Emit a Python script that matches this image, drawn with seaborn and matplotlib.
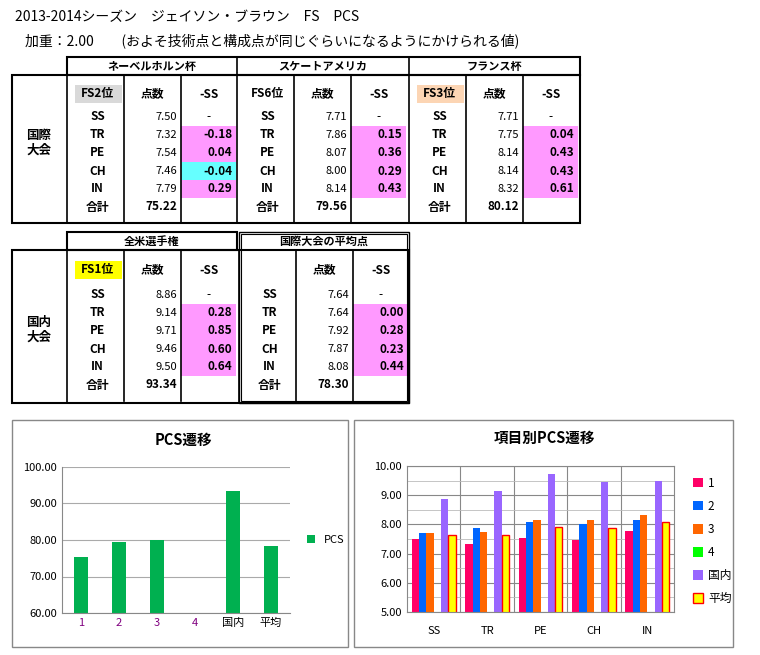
import numpy as np
import pandas as pd
import matplotlib
matplotlib.use("Agg")
import matplotlib.pyplot as plt
from matplotlib.patches import Rectangle
import seaborn as sns

plt.rcParams["font.family"] = ["Noto Sans CJK JP", "DejaVu Sans"]

items = ["SS", "TR", "PE", "CH", "IN"]
events = ["ネーベルホルン杯", "スケートアメリカ", "フランス杯"]
ranks = ["FS2位", "FS6位", "FS3位"]
scores_1 = [7.50, 7.32, 7.54, 7.46, 7.79]
scores_2 = [7.71, 7.86, 8.07, 8.00, 8.14]
scores_3 = [7.71, 7.75, 8.14, 8.14, 8.32]
totals_intl = [75.22, 79.56, 80.12]
scores_nat = [8.86, 9.14, 9.71, 9.46, 9.50]
total_nat = 93.34
scores_avg = [7.64, 7.64, 7.92, 7.87, 8.08]
total_avg = 78.30
pcs_labels = ["1", "2", "3", "4", "国内", "平均"]
pcs_totals = [75.22, 79.56, 80.12, np.nan, 93.34, 78.30]
series_labels = ["1", "2", "3", "4", "国内", "平均"]
series_values = [scores_1, scores_2, scores_3, [np.nan]*5, scores_nat, scores_avg]

W, H = 760, 655
fig = plt.figure(figsize=(7.6, 6.55), dpi=100)
T = fig.transFigure
def X(x): return x / W
def Y(y): return 1 - y / H
def text(x, y, s, ha="center", size=8.5, bold=False, color="black"):
    fig.text(X(x), Y(y), s, ha=ha, va="center", fontsize=size,
             fontweight="bold" if bold else "normal", color=color)
def rect(x0, y0, x1, y1, fc="none", ec="black", lw=1.5, z=1):
    fig.patches.append(Rectangle((X(x0), Y(y1)), X(x1) - X(x0), Y(y0) - Y(y1),
                                 transform=T, fc=fc, ec=ec, lw=lw, zorder=z))
def line(x0, y0, x1, y1, lw=1.2):
    fig.lines.append(plt.Line2D([X(x0), X(x1)], [Y(y0), Y(y1)], transform=T, color="black", lw=lw))

text(15, 17, "2013-2014シーズン　ジェイソン・ブラウン　FS　PCS", ha="left", size=10)
text(25, 41, "加重：2.00　　(およそ技術点と構成点が同じぐらいになるようにかけられる値)", ha="left", size=10)

rowy = [117, 135, 153, 171, 189]
def block(x0, y_head, rowys, scores, total, rank, rankc, totaly, hy):
    xs = [x0, x0 + 57, x0 + 114, x0 + 170]
    if rank:
        rect(xs[0] + 8, hy - 9, xs[1] - 2, hy + 9, fc=rankc, ec="none", lw=0, z=0)
        text((xs[0] + xs[1]) / 2 + 2, hy, rank, bold=True)
    text((xs[1] + xs[2]) / 2, hy, "点数", bold=True)
    text((xs[2] + xs[3]) / 2, hy, "-SS", bold=True)
    for i, (yy, it) in enumerate(zip(rowys, items)):
        text((xs[0] + xs[1]) / 2 + 2, yy, it, bold=True)
        text(xs[2] - 4, yy, f"{scores[i]:.2f}", ha="right", size=8)
        if i == 0:
            text((xs[2] + xs[3]) / 2, yy, "-")
        else:
            d = scores[i] - scores[0]
            c = "#66FFFF" if d < 0 and abs(d + 0.04) < 0.005 else "#FF99FF"
            rect(xs[2], yy - 9, xs[3] - 1, yy + 9, fc=c, ec="none", lw=0, z=0)
            text(xs[3] - 5, yy, f"{d:.2f}", ha="right", bold=True)
    text((xs[0] + xs[1]) / 2 + 2, totaly, "合計", bold=True)
    text(xs[2] - 4, totaly, f"{total:.2f}", ha="right", bold=True)
    for xx in xs[1:3]:
        line(xx, y_head, xx, totaly + 16)

xb = [67, 237, 409, 580]
rankcs = ["#D9D9D9", "white", "#FCD5B4"]
sc = [scores_1, scores_2, scores_3]
for k in range(3):
    block(xb[k], 75, rowy, sc[k], totals_intl[k], ranks[k], rankcs[k], 207, 94)
    text((xb[k] + xb[k + 1]) / 2, 66, events[k], size=8, bold=True)
rect(67, 57, 580, 75)
rect(12, 75, 580, 223)
for xx in xb[:-1]:
    line(xx, 57, xx, 223)
text(39, 143, "国際\n大会", bold=True, size=9)

rowy2 = [295, 313, 331, 349, 367]
block(67, 250, rowy2, scores_nat, total_nat, "FS1位", "#FFFF00", 385, 270)
block(239, 250, rowy2, scores_avg, total_avg, "", "white", 385, 270)
text(152, 241, "全米選手権", size=8, bold=True)
text(324, 241, "国際大会の平均点", size=8, bold=True)
rect(67, 232, 237, 250)
rect(12, 250, 409, 403)
rect(239, 232, 409, 403, lw=1)
rect(241, 234, 407, 401, lw=0.8)
line(67, 232, 67, 403)
line(239, 250, 239, 403)
text(39, 330, "国内\n大会", bold=True, size=9)

rect(12, 420, 348, 647, ec="#888888", lw=1)
rect(354, 420, 733, 647, ec="#888888", lw=1)

ax1 = fig.add_axes([X(62), Y(613), X(290) - X(62), Y(467) - Y(613)])
df1 = pd.DataFrame({"cat": pcs_labels, "PCS": pcs_totals})
sns.barplot(data=df1, x="cat", y="PCS", color="#00B050", width=0.35, ax=ax1, saturation=1, label="PCS")
ax1.set_ylim(60, 100)
ax1.set_yticks(np.arange(60, 101, 10))
ax1.set_yticklabels([f"{v:.2f}" for v in np.arange(60, 101, 10)], fontsize=8)
ax1.yaxis.grid(True, color="#AAAAAA", lw=0.8)
ax1.set_axisbelow(True)
ax1.set_xlabel(""); ax1.set_ylabel("")
ax1.tick_params(length=0, labelsize=8)
for i, t in enumerate(ax1.get_xticklabels()):
    t.set_color("#800080" if i < 4 else "black")
for s in ["top", "right"]:
    ax1.spines[s].set_visible(False)
for s in ["left", "bottom"]:
    ax1.spines[s].set_color("#888888")
ax1.legend(loc="center left", bbox_to_anchor=(1.03, 0.5), frameon=False, fontsize=8,
           handlelength=0.7, handleheight=0.7)
text(183, 440, "PCS遷移", size=10.5, bold=True)

ax2 = fig.add_axes([X(407), Y(612), X(674) - X(407), Y(466) - Y(612)])
rows = []
for lab, vals in zip(series_labels, series_values):
    for it, v in zip(items, vals):
        rows.append({"item": it, "series": lab, "v": v})
df2 = pd.DataFrame(rows)
pal = ["#FF0066", "#0066FF", "#FF6600", "#00FF00", "#9966FF", "#FFFF00"]
sns.barplot(data=df2, x="item", y="v", hue="series", palette=pal, width=0.82, ax=ax2,
            saturation=1, gap=0)
for p in ax2.containers[5]:
    p.set_edgecolor("#FF0000"); p.set_linewidth(1)
ax2.set_ylim(5, 10)
ax2.set_yticks(np.arange(5, 10.1, 1))
ax2.set_yticks(np.arange(5.5, 10, 1), minor=True)
ax2.set_yticklabels([f"{v:.2f}" for v in np.arange(5, 10.1, 1)], fontsize=8)
ax2.yaxis.grid(True, which="major", color="#888888", lw=0.8)
ax2.yaxis.grid(True, which="minor", color="#BBBBBB", lw=0.6)
for xv in [0.5, 1.5, 2.5, 3.5]:
    ax2.axvline(xv, color="#888888", lw=0.8, zorder=0)
ax2.set_axisbelow(True)
ax2.set_xlabel(""); ax2.set_ylabel("")
ax2.tick_params(length=0, labelsize=8, which="both")
ax2.tick_params(axis="x", pad=10)
for s in ax2.spines.values():
    s.set_color("#888888")
leg = ax2.legend(loc="upper left", bbox_to_anchor=(1.03, 1.0), frameon=False, fontsize=8.5,
                 handlelength=0.9, handleheight=0.9, labelspacing=0.85, handletextpad=0.4)
h = leg.legend_handles[5]
h.set_edgecolor("#FF0000"); h.set_linewidth(1)
text(545, 438, "項目別PCS遷移", size=10.5, bold=True)

fig.savefig("out.png", dpi=100)
